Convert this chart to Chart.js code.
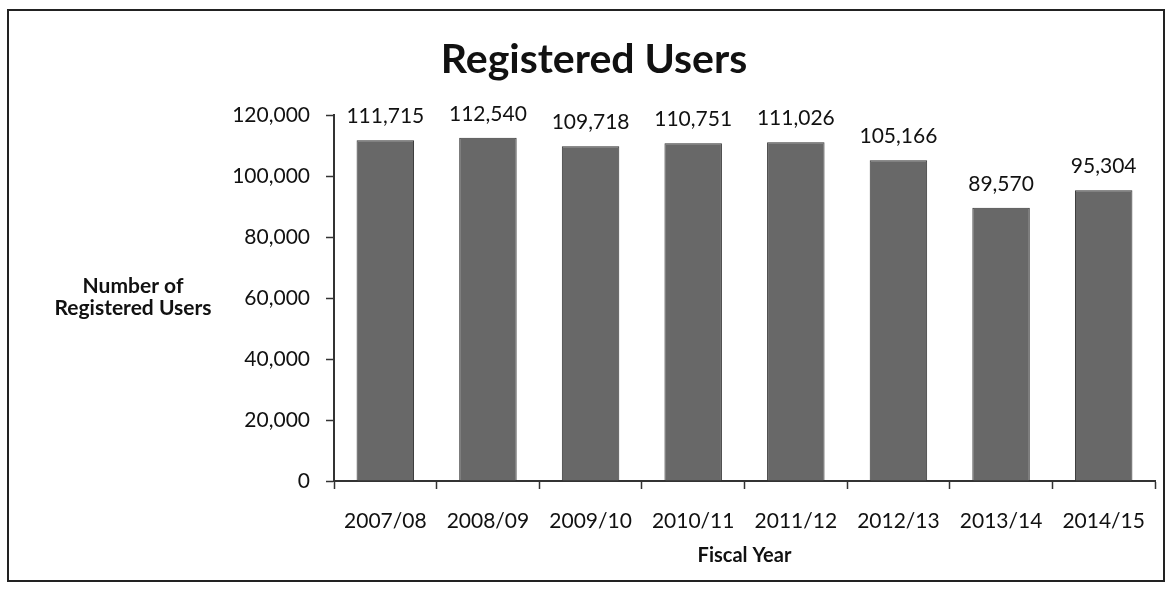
<!DOCTYPE html>
<html>
<head>
<meta charset="utf-8">
<script src="https://cdn.jsdelivr.net/npm/chart.js@4.4.0/dist/chart.umd.min.js"></script>
<style>
  body { margin: 0; background: #fff; }
  #wrap { position: relative; width: 1172px; height: 597px; }
  #frame { position: absolute; left: 7px; top: 9px; width: 1158px; height: 573px; border: 2px solid #222; box-sizing: border-box; pointer-events: none; }
</style>
</head>
<body>
<div id="wrap">
  <canvas id="chart" width="1172" height="597"></canvas>
  <div id="frame"></div>
</div>
<script>
/* =================================================
   DATA
================================================= */
const years = ['2007/08', '2008/09', '2009/10', '2010/11', '2011/12', '2012/13', '2013/14', '2014/15'];
const users = [111715, 112540, 109718, 110751, 111026, 105166, 89570, 95304];
const yTicks = [0, 20000, 40000, 60000, 80000, 100000, 120000];

const FONT = 'Lato, "Open Sans", sans-serif';
const fmt = v => v.toLocaleString('en-US');

// value labels over each bar
const barLabels = {
  id: 'barLabels',
  afterDatasetsDraw(chart) {
    const ctx = chart.ctx;
    const meta = chart.getDatasetMeta(0);
    ctx.save();
    ctx.fillStyle = '#111';
    ctx.font = '21px ' + FONT;
    ctx.textAlign = 'center';
    ctx.textBaseline = 'alphabetic';
    meta.data.forEach((bar, i) => {
      ctx.fillText(fmt(users[i]), bar.x, bar.y - 17);
    });
    ctx.restore();
  }
};

// chart title + horizontal y axis title (excel style)
const titles = {
  id: 'titles',
  afterDraw(chart) {
    const ctx = chart.ctx;
    const mid = (chart.chartArea.top + chart.chartArea.bottom) / 2;
    ctx.save();
    ctx.fillStyle = '#111';
    ctx.textAlign = 'center';
    ctx.textBaseline = 'middle';
    ctx.font = 'bold 41px ' + FONT;
    ctx.fillText('Registered Users', 594, 60);
    ctx.font = 'bold 21px ' + FONT;
    ctx.fillText('Number of', 133, mid - 12);
    ctx.fillText('Registered Users', 133, mid + 10);
    ctx.restore();
  }
};

new Chart(document.getElementById('chart'), {
  type: 'bar',
  data: {
    labels: years,
    datasets: [{
      data: users,
      backgroundColor: '#686868',
      borderColor: '#333',
      borderWidth: 1,
      barPercentage: 0.56,
      categoryPercentage: 1
    }]
  },
  options: {
    responsive: false,
    animation: false,
    layout: { padding: { left: 0, right: 17, top: 115, bottom: 25 } },
    plugins: {
      legend: { display: false },
      tooltip: { enabled: false }
    },
    scales: {
      x: {
        offset: true,
        afterFit: axis => { axis.height = 91; },
        grid: { display: true, drawOnChartArea: false, offset: true, color: '#333', tickLength: 8, tickWidth: 1.5 },
        border: { color: '#333', width: 2 },
        ticks: { color: '#111', font: { family: FONT, size: 21 }, padding: 20 },
        title: { display: true, text: 'Fiscal Year', color: '#111', font: { family: FONT, size: 20, weight: 'bold' }, padding: { top: 0, bottom: 4 } }
      },
      y: {
        min: 0,
        max: 120000,
        afterBuildTicks: axis => { axis.ticks = yTicks.map(v => ({ value: v })); },
        afterFit: axis => { axis.width = 334; },
        grid: { display: true, drawOnChartArea: false, color: '#333', tickLength: 8, tickWidth: 1.5 },
        border: { color: '#333', width: 2 },
        ticks: { color: '#111', font: { family: FONT, size: 21 }, padding: 16, callback: v => fmt(v) }
      }
    }
  },
  plugins: [barLabels, titles]
});
</script>
</body>
</html>
